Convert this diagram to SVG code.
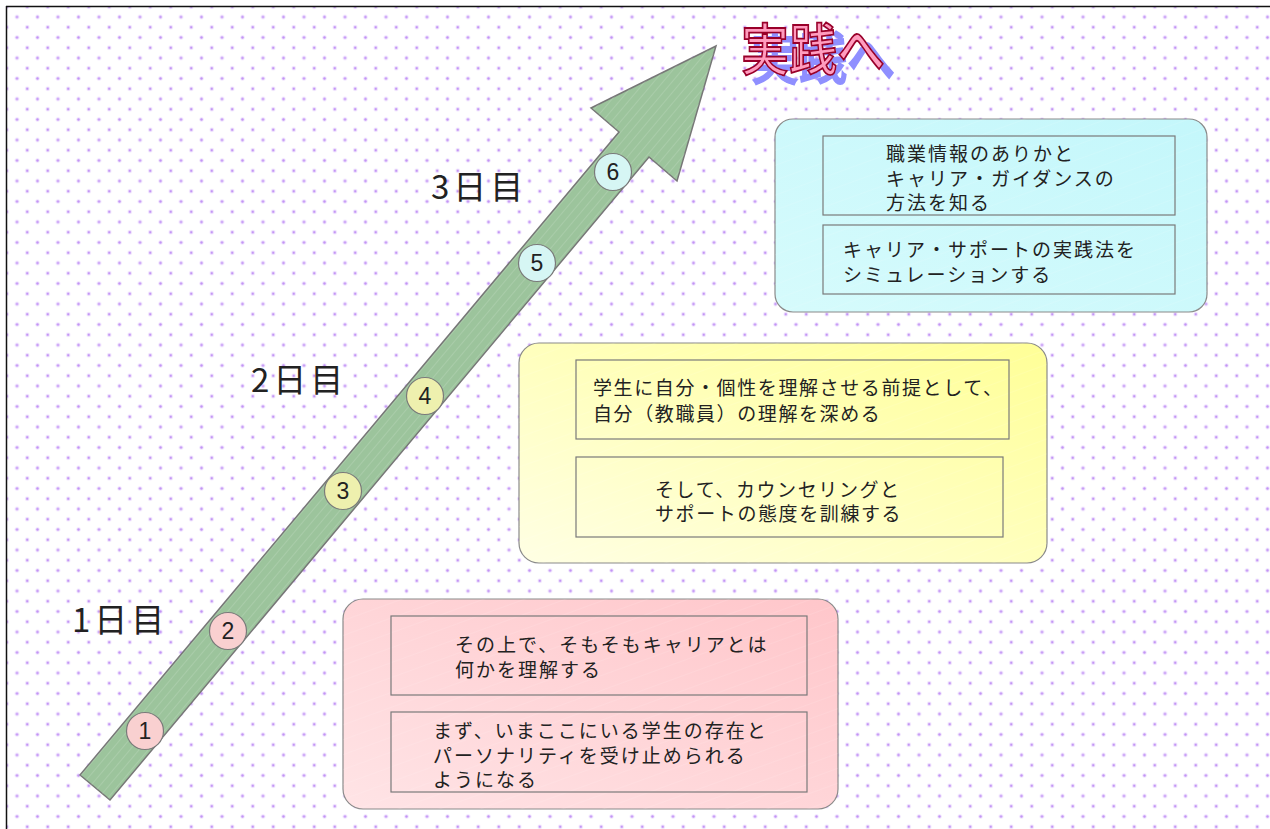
<svg xmlns="http://www.w3.org/2000/svg" width="1270" height="829" viewBox="0 0 1270 829">
<defs>
<g id="dot"><circle r="2.2" fill="#e2ccfb" fill-opacity="0.6"/><circle r="1.2" fill="#c294f5"/></g>
<pattern id="dots" patternUnits="userSpaceOnUse" x="6.75" y="6.75" width="20.5" height="20.5">
<use href="#dot" x="10.25" y="10.25"/>
<use href="#dot" x="0" y="0"/>
<use href="#dot" x="20.5" y="0"/>
<use href="#dot" x="0" y="20.5"/>
<use href="#dot" x="20.5" y="20.5"/>
</pattern>
<pattern id="stripes" patternUnits="userSpaceOnUse" width="7" height="10" patternTransform="rotate(40)">
<line x1="0" y1="0" x2="0" y2="10" stroke="#ffffff" stroke-opacity="0.35" stroke-width="0.8"/>
</pattern>
<pattern id="boxstripes" patternUnits="userSpaceOnUse" width="14" height="10" patternTransform="rotate(70)">
<line x1="0" y1="0" x2="0" y2="10" stroke="#ffffff" stroke-opacity="0.25" stroke-width="0.8"/>
</pattern>
<linearGradient id="gCyan" x1="0" y1="1" x2="1" y2="0">
<stop offset="0" stop-color="#d6fbfc"/>
<stop offset="1" stop-color="#c4f7fb"/>
</linearGradient>
<linearGradient id="gYellow" x1="0" y1="1" x2="1" y2="0">
<stop offset="0" stop-color="#ffffe4"/>
<stop offset="1" stop-color="#ffff96"/>
</linearGradient>
<linearGradient id="gPink" x1="0" y1="1" x2="1" y2="0">
<stop offset="0" stop-color="#ffe4e6"/>
<stop offset="1" stop-color="#ffc6ca"/>
</linearGradient>
<filter id="shadow" x="-10%" y="-20%" width="130%" height="150%">
<feFlood flood-color="#8f8fff" result="c"/>
<feComposite in="c" in2="SourceAlpha" operator="in" result="s"/>
<feOffset in="s" dx="10" dy="9" result="o"/>
<feMerge><feMergeNode in="o"/><feMergeNode in="SourceGraphic"/></feMerge>
</filter>
<style>
.outer{stroke:#8a8a8a;stroke-width:1.2}
.inner{fill:none;stroke:#7a7a7a;stroke-width:1.2}
.txt{font-family:"Noto Sans CJK JP","Noto Sans",sans-serif;font-size:19px;fill:#222;letter-spacing:2px}
.txt2{font-family:"Noto Sans CJK JP","Noto Sans",sans-serif;font-size:19px;fill:#222;letter-spacing:1.6px}
.day{font-family:"Noto Sans CJK JP","Noto Sans",sans-serif;font-size:33px;fill:#222;letter-spacing:4px}
.num{font-family:"Liberation Sans",Arial,sans-serif;font-size:23px;fill:#222;text-anchor:middle}
.circ{stroke:#7a7a7a;stroke-width:1.2}
.title{font-family:"Noto Sans CJK JP",sans-serif;font-size:48px;font-weight:500}
</style>
</defs>

<g id="background">
<rect x="0" y="0" width="1270" height="829" fill="#ffffff"/>
<rect x="7" y="7" width="1263" height="822" fill="url(#dots)"/>
<line x1="6" y1="6.5" x2="1270" y2="6.5" stroke="#111" stroke-width="1.5"/>
<line x1="6.5" y1="6" x2="6.5" y2="829" stroke="#111" stroke-width="1.5"/>
</g>

<g id="connectors">
<polygon points="80,775 619,132 591,108 716,46 677,181 649,157 110,800" fill="#9cc49c" stroke="#777" stroke-width="1.5" stroke-linejoin="miter"/>
<polygon points="80,775 619,132 591,108 716,46 677,181 649,157 110,800" fill="url(#stripes)"/>
</g>

<g id="title" filter="url(#shadow)">
<text class="title" x="0" y="0" fill="#ff9cbe" stroke="#99002a" stroke-width="1.6" transform="translate(741,70) scale(1,1.15)">実践へ</text>
</g>

<g id="day3"><text class="day" x="431" y="199">3日目</text></g>
<g id="day2"><text class="day" x="251" y="392">2日目</text></g>
<g id="day1"><text class="day" x="72" y="632">1日目</text></g>

<g id="step1"><circle class="circ" cx="145" cy="731" r="18.5" fill="#f9d0d0"/><text class="num" x="145" y="739">1</text></g>
<g id="step2"><circle class="circ" cx="228" cy="631" r="18.5" fill="#f9d0d0"/><text class="num" x="228" y="639">2</text></g>
<g id="step3"><circle class="circ" cx="343" cy="491" r="18.5" fill="#eef0ae"/><text class="num" x="343" y="499">3</text></g>
<g id="step4"><circle class="circ" cx="425" cy="396" r="18.5" fill="#eef0ae"/><text class="num" x="425" y="404">4</text></g>
<g id="step5"><circle class="circ" cx="537" cy="263" r="18.5" fill="#d6f6f4"/><text class="num" x="537" y="271">5</text></g>
<g id="step6"><circle class="circ" cx="613" cy="172" r="18.5" fill="#d6f6f4"/><text class="num" x="613" y="180">6</text></g>

<g id="box-day3">
<rect class="outer" x="775" y="119" width="432" height="193" rx="18" fill="url(#gCyan)"/>
<rect x="775" y="119" width="432" height="193" rx="18" fill="url(#boxstripes)"/>
<rect class="inner" x="823" y="136" width="352" height="79"/>
<text class="txt"><tspan x="886" y="161">職業情報のありかと</tspan><tspan x="886" y="186">キャリア・ガイダンスの</tspan><tspan x="886" y="210">方法を知る</tspan></text>
<rect class="inner" x="823" y="225" width="352" height="69"/>
<text class="txt"><tspan x="843" y="257">キャリア・サポートの実践法を</tspan><tspan x="843" y="282">シミュレーションする</tspan></text>
</g>

<g id="box-day2">
<rect class="outer" x="519" y="343" width="528" height="220" rx="20" fill="url(#gYellow)"/>
<rect x="519" y="343" width="528" height="220" rx="20" fill="url(#boxstripes)"/>
<rect class="inner" x="576" y="360" width="433" height="79"/>
<text class="txt2"><tspan x="593" y="395">学生に自分・個性を理解させる前提として、</tspan><tspan x="593" y="421">自分（教職員）の理解を深める</tspan></text>
<rect class="inner" x="576" y="457" width="427" height="80"/>
<text class="txt2"><tspan x="655" y="497">そして、カウンセリングと</tspan><tspan x="655" y="521">サポートの態度を訓練する</tspan></text>
</g>

<g id="box-day1">
<rect class="outer" x="343" y="599" width="495" height="210" rx="20" fill="url(#gPink)"/>
<rect x="343" y="599" width="495" height="210" rx="20" fill="url(#boxstripes)"/>
<rect class="inner" x="391" y="616" width="416" height="79"/>
<text class="txt"><tspan x="455" y="652">その上で、そもそもキャリアとは</tspan><tspan x="455" y="677">何かを理解する</tspan></text>
<rect class="inner" x="391" y="712" width="416" height="80"/>
<text class="txt"><tspan x="433" y="738">まず、いまここにいる学生の存在と</tspan><tspan x="433" y="763">パーソナリティを受け止められる</tspan><tspan x="433" y="787">ようになる</tspan></text>
</g>
</svg>
